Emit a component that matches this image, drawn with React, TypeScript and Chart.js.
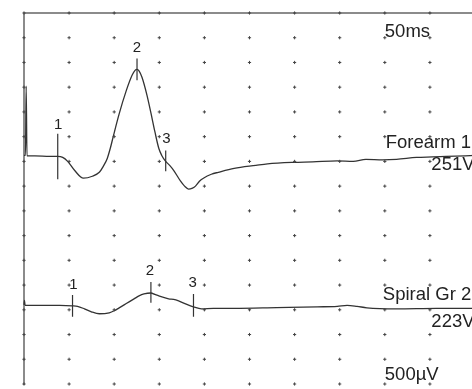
import React, { useEffect, useRef } from "react";
import { Chart, registerables } from "chart.js";

Chart.register(...registerables);

// Sweep: 50 ms across 10 divisions, 15 vertical divisions
const gridX = [0, 5, 10, 15, 20, 25, 30, 35, 40, 45, 50];
const gridY = [0, 1, 2, 3, 4, 5, 6, 7, 8, 9, 10, 11, 12, 13, 14, 15];

// Trace 1: Forearm 1 (x in ms, y in divisions)
const forearmX = [0.0, 0.16, 0.24, 0.33, 1.21, 2.86, 3.74, 4.29, 4.84, 5.6, 6.59, 7.58, 8.35, 8.79, 9.23, 9.56, 9.89, 10.55, 11.32, 11.98, 12.31, 12.53, 12.75, 13.08, 13.63, 14.07, 14.51, 14.95, 15.27, 15.71, 16.15, 16.59, 17.36, 17.8, 18.24, 18.68, 19.01, 19.45, 19.89, 20.77, 21.54, 23.3, 25.71, 27.0, 29.89, 32.0, 34.73, 36.5, 37.9, 39.78, 41.3, 43.52, 45.3, 46.81, 50.0];
const forearmY = [9.24, 9.24, 12.04, 9.22, 9.22, 9.2, 9.2, 9.16, 9.0, 8.64, 8.32, 8.4, 8.56, 8.8, 9.12, 9.52, 10.0, 10.92, 11.84, 12.48, 12.68, 12.72, 12.66, 12.4, 11.68, 10.96, 10.2, 9.52, 9.24, 9.0, 8.84, 8.64, 8.2, 8.0, 7.88, 7.92, 8.0, 8.2, 8.32, 8.48, 8.56, 8.72, 8.84, 8.9, 8.96, 8.98, 9.02, 9.0, 9.08, 9.06, 9.08, 9.16, 9.18, 9.2, 9.24];

// Trace 2: Spiral Gr 2
const spiralX = [0.0, 0.05, 0.12, 1.76, 3.96, 5.38, 5.93, 6.7, 7.47, 8.35, 9.45, 10.0, 10.55, 11.1, 11.65, 12.2, 12.75, 13.3, 14.07, 14.51, 14.95, 16.04, 16.59, 17.14, 17.91, 18.79, 19.67, 20.99, 23.3, 28.02, 32.53, 34.73, 35.82, 36.92, 38.02, 41.32, 45.71, 50.0];
const spiralY = [3.2, 3.38, 3.18, 3.18, 3.18, 3.16, 3.14, 3.04, 2.92, 2.84, 2.88, 2.96, 3.08, 3.2, 3.32, 3.44, 3.56, 3.64, 3.68, 3.62, 3.56, 3.44, 3.42, 3.36, 3.24, 3.12, 3.04, 3.06, 3.06, 3.09, 3.12, 3.14, 3.18, 3.14, 3.08, 3.04, 3.06, 3.06];

// Latency markers
const forearmMarkX = [3.74, 12.53, 15.71];
const forearmMarkTop = [10.12, 13.16, 9.44];
const forearmMarkBottom = [8.28, 12.28, 8.6];
const forearmMarkLabelX = [3.78, 12.53, 15.78];
const forearmMarkLabelY = [10.32, 13.44, 9.76];

const spiralMarkX = [5.38, 14.07, 18.79];
const spiralMarkTop = [3.6, 4.12, 3.64];
const spiralMarkBottom = [2.72, 3.28, 2.72];
const spiralMarkLabelX = [5.49, 13.96, 18.7];
const spiralMarkLabelY = [3.84, 4.4, 3.92];

const markLabels = ["1", "2", "3"];

// Text annotations
const noteTexts = ["50ms", "Forearm 1", "251V", "Spiral Gr 2", "223V", "500µV"];
const noteX = [40.0, 40.1, 45.16, 39.78, 45.16, 40.0];
const noteY = [14.04, 9.56, 8.64, 3.4, 2.32, 0.16];

const zip = (xs: number[], ys: number[]) => xs.map((x, i) => ({ x, y: ys[i] }));

const markerPoints = (xs: number[], tops: number[], bottoms: number[]) => {
  const pts: any[] = [];
  xs.forEach((x, i) => {
    pts.push({ x, y: tops[i] });
    pts.push({ x, y: bottoms[i] });
    pts.push({ x, y: null });
  });
  return pts;
};

const framePlugin = {
  id: "emgFrame",
  beforeDatasetsDraw(chart: any) {
    const { ctx, chartArea } = chart;
    ctx.save();
    ctx.lineWidth = 1.5;
    ctx.strokeStyle = "#666";
    ctx.beginPath();
    ctx.moveTo(chartArea.left, chartArea.bottom + 1);
    ctx.lineTo(chartArea.left, chartArea.top);
    ctx.lineTo(chartArea.right, chartArea.top);
    ctx.stroke();
    ctx.restore();
  },
};

const textPlugin = {
  id: "emgText",
  afterDatasetsDraw(chart: any) {
    const { ctx, scales } = chart;
    const sx = scales.x;
    const sy = scales.y;
    ctx.save();
    ctx.fillStyle = "#222";
    ctx.textBaseline = "alphabetic";
    ctx.textAlign = "left";
    ctx.font = "18.5px 'Liberation Sans', Arial, sans-serif";
    noteTexts.forEach((t, i) => {
      ctx.fillText(t, sx.getPixelForValue(noteX[i]), sy.getPixelForValue(noteY[i]));
    });
    ctx.textAlign = "center";
    ctx.font = "15px 'Liberation Sans', Arial, sans-serif";
    markLabels.forEach((t, i) => {
      ctx.fillText(t, sx.getPixelForValue(forearmMarkLabelX[i]), sy.getPixelForValue(forearmMarkLabelY[i]));
      ctx.fillText(t, sx.getPixelForValue(spiralMarkLabelX[i]), sy.getPixelForValue(spiralMarkLabelY[i]));
    });
    ctx.restore();
  },
};

export default function App() {
  const ref = useRef<HTMLCanvasElement | null>(null);

  useEffect(() => {
    if (!ref.current) return;
    const dots: { x: number; y: number }[] = [];
    gridX.forEach((x) => gridY.forEach((y) => dots.push({ x, y })));

    const traceStyle = {
      showLine: true,
      borderColor: "#333",
      borderWidth: 1.3,
      pointRadius: 0,
      cubicInterpolationMode: "monotone" as const,
      clip: 2,
    };

    const chart = new Chart(ref.current, {
      type: "scatter",
      data: {
        datasets: [
          {
            label: "grid",
            data: dots,
            pointStyle: "cross",
            pointRadius: 1.6,
            borderColor: "#444",
            borderWidth: 1,
            clip: false as any,
          },
          { label: "Forearm 1", data: zip(forearmX, forearmY), ...traceStyle },
          { label: "Spiral Gr 2", data: zip(spiralX, spiralY), ...traceStyle },
          {
            label: "Forearm markers",
            data: markerPoints(forearmMarkX, forearmMarkTop, forearmMarkBottom),
            showLine: true,
            spanGaps: false,
            borderColor: "#333",
            borderWidth: 1.2,
            pointRadius: 0,
          },
          {
            label: "Spiral markers",
            data: markerPoints(spiralMarkX, spiralMarkTop, spiralMarkBottom),
            showLine: true,
            spanGaps: false,
            borderColor: "#333",
            borderWidth: 1.2,
            pointRadius: 0,
          },
        ],
      },
      options: {
        animation: false,
        responsive: false,
        devicePixelRatio: 1,
        events: [],
        layout: { padding: { left: 24, top: 13, right: 1, bottom: 1 } },
        plugins: { legend: { display: false }, tooltip: { enabled: false } },
        scales: {
          x: { type: "linear", display: false, min: 0, max: 50 },
          y: { type: "linear", display: false, min: 0, max: 15 },
        },
      },
      plugins: [framePlugin, textPlugin],
    });
    return () => chart.destroy();
  }, []);

  return (
    <div
      style={{
        position: "fixed",
        left: 0,
        top: 0,
        width: 472,
        height: 389,
        overflow: "hidden",
        background: "#fff",
      }}
    >
      <canvas ref={ref} width={480} height={389} style={{ display: "block", width: 480, height: 389 }} />
    </div>
  );
}
